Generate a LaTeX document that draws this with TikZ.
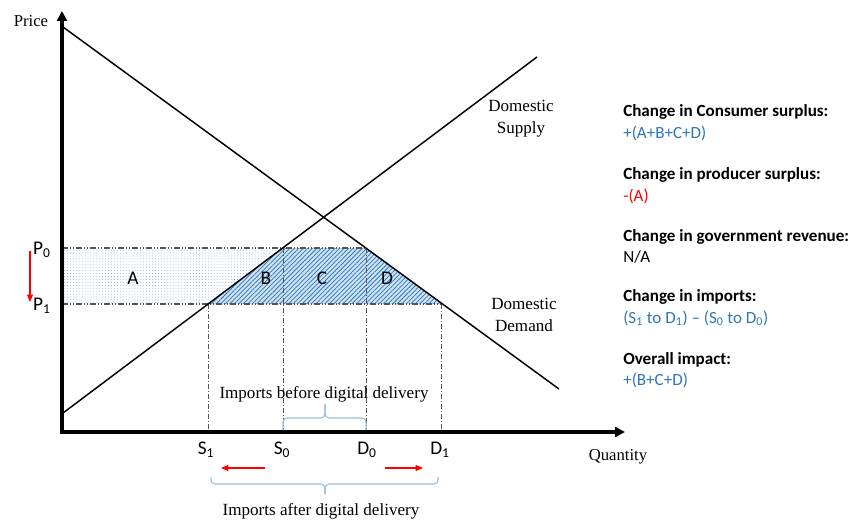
\documentclass[tikz,border=0pt]{standalone}
\usepackage{fontspec}
\setmainfont{Liberation Serif}
\newfontfamily\calfont{Carlito}
\usetikzlibrary{arrows.meta,patterns.meta}
\definecolor{txtblue}{RGB}{46,117,182}
\definecolor{hatchblue}{RGB}{46,117,182}
\definecolor{lightfill}{RGB}{205,225,244}
\definecolor{dotblue}{RGB}{110,165,220}
\definecolor{dashgrey}{RGB}{85,85,85}
\definecolor{bracecol}{RGB}{150,190,228}
\newcommand{\sbs}[1]{\textsubscript{#1}}
\begin{document}
\begin{tikzpicture}[x=0.75pt,y=-0.75pt,
  axisline/.style={line width=2.3pt,line join=miter},
  curve/.style={line width=1.1pt},
  guide/.style={dashgrey,line width=0.6pt,dash pattern=on 3.75pt off 1.5pt on 0.75pt off 1.5pt},
  guidehor/.style={dashgrey,line width=0.8pt,dash pattern=on 4.5pt off 1.5pt on 0.75pt off 1.5pt on 0.75pt off 1.5pt},
  sanslbl/.style={font=\calfont\fontsize{14.5}{14.5}\selectfont,inner sep=0pt},
  seriflbl/.style={font=\fontsize{12.8}{16.5}\selectfont,inner sep=0pt,align=center},
  headtxt/.style={font=\calfont\bfseries\fontsize{12.8}{13}\selectfont,anchor=west,inner sep=0pt},
  valtxt/.style={font=\calfont\fontsize{12.8}{13}\selectfont,anchor=west,inner sep=0pt},
  redarrow/.style={red,line width=0.8pt,-{Triangle[length=5.5pt,width=4.5pt]}},
  bracestyle/.style={bracecol,line width=0.8pt,rounded corners=3pt}
]
\useasboundingbox (0,0) rectangle (852,520);

% key coordinates
\coordinate (O) at (62,432);
\coordinate (ytip) at (62,11);
\coordinate (xtip) at (625,432);
\coordinate (dstart) at (63,27);
\coordinate (dend) at (559,389);
\coordinate (sstart) at (63,413);
\coordinate (send) at (537,57);
\coordinate (P0a) at (62,248);
\coordinate (P1a) at (62,304);
\coordinate (S0p) at (283,248);
\coordinate (D0p) at (366,248);
\coordinate (S1p) at (208,304);
\coordinate (D1p) at (441,304);
\coordinate (S0b) at (283,432);
\coordinate (D0b) at (366,432);
\coordinate (S1b) at (208,432);
\coordinate (D1b) at (441,432);

% shaded areas
\fill[pattern={Dots[distance=2.2pt,radius=0.35pt]},pattern color=dotblue] (P0a) -- (S0p) -- (S1p) -- (P1a) -- cycle;
\fill[lightfill] (S0p) -- (D0p) -- (D1p) -- (S1p) -- cycle;
\fill[pattern={Lines[angle=45,distance=2.4pt,line width=0.55pt]},pattern color=hatchblue] (S0p) -- (D0p) -- (D1p) -- (S1p) -- cycle;

% guide lines
\draw[guidehor] (P0a) -- (D0p);
\draw[guidehor] (P1a) -- (D1p);
\draw[guide] (S1p) -- (S1b);
\draw[guide] (S0p) -- (S0b);
\draw[guide] (D0p) -- (D0b);
\draw[guide] (D1p) -- (D1b);

% curves
\draw[curve] (dstart) -- (dend);
\draw[curve] (sstart) -- (send);

% axes
\draw[axisline,{Triangle[length=7.5pt,width=7.5pt]}-{Triangle[length=7.5pt,width=7.5pt]}] (ytip) -- (O) -- (xtip);

% axis labels
\node[font=\fontsize{12.5}{13}\selectfont,inner sep=0pt] (price) at (31,21) {Price};
\node[font=\fontsize{12.5}{13}\selectfont,inner sep=0pt] (qty) at (618,457) {Quantity};

% curve labels
\node[seriflbl] (suplbl) at (521,119) {Domestic\\Supply};
\node[seriflbl] (demlbl) at (524,315) {Domestic\\Demand};

% price labels
\node[sanslbl] (P0) at (42,250) {P\sbs{0}};
\node[sanslbl] (P1) at (42,306) {P\sbs{1}};
\coordinate (ra1) at (30,251);
\coordinate (ra2) at (30,302);
\draw[redarrow] (ra1) -- (ra2);

% area labels
\node[sanslbl] (A) at (133,278) {A};
\node[sanslbl] (B) at (266,278) {B};
\node[sanslbl] (C) at (322,278) {C};
\node[sanslbl] (D) at (387,278) {D};

% quantity labels
\node[sanslbl] (S1) at (206,450) {S\sbs{1}};
\node[sanslbl] (S0) at (282,450) {S\sbs{0}};
\node[sanslbl] (D0) at (367,450) {D\sbs{0}};
\node[sanslbl] (D1) at (440,450) {D\sbs{1}};

% red arrows under axis
\coordinate (la1) at (265,468);
\coordinate (la2) at (221,468);
\coordinate (rb1) at (385,468);
\coordinate (rb2) at (423,468);
\draw[redarrow] (la1) -- (la2);
\draw[redarrow] (rb1) -- (rb2);

% braces
\coordinate (ub1) at (283,430);
\coordinate (ub2) at (366,430);
\coordinate (ubtip) at (325,404);
\draw[bracestyle] (ub1) -- (283,418) -- (325,418) -- (ubtip);
\draw[bracestyle] (ubtip) -- (325,418) -- (366,418) -- (ub2);
\node[seriflbl] (impbefore) at (324,394) {Imports before digital delivery};

\coordinate (lb1) at (211,477);
\coordinate (lb2) at (438,477);
\coordinate (lbtip) at (325,494);
\draw[bracestyle] (lb1) -- (211,484) -- (325,484) -- (lbtip);
\draw[bracestyle] (lbtip) -- (325,484) -- (438,484) -- (lb2);
\node[seriflbl] (impafter) at (321,511) {Imports after digital delivery};

% right text block
\node[headtxt] (h1) at (623,112) {Change in Consumer surplus:};
\node[valtxt,text=txtblue] (v1) at (623,133) {+(A+B+C+D)};
\node[headtxt] (h2) at (623,175) {Change in producer surplus:};
\node[valtxt,text=red] (v2) at (623,196) {-(A)};
\node[headtxt] (h3) at (623,237) {Change in government revenue:};
\node[valtxt] (v3) at (623,257) {N/A};
\node[headtxt] (h4) at (623,297) {Change in imports:};
\node[valtxt,text=txtblue] (v4) at (623,318) {(S\sbs{1} to D\sbs{1}) – (S\sbs{0} to D\sbs{0})};
\node[headtxt] (h5) at (623,360) {Overall impact:};
\node[valtxt,text=txtblue] (v5) at (623,380) {+(B+C+D)};
\end{tikzpicture}
\end{document}
